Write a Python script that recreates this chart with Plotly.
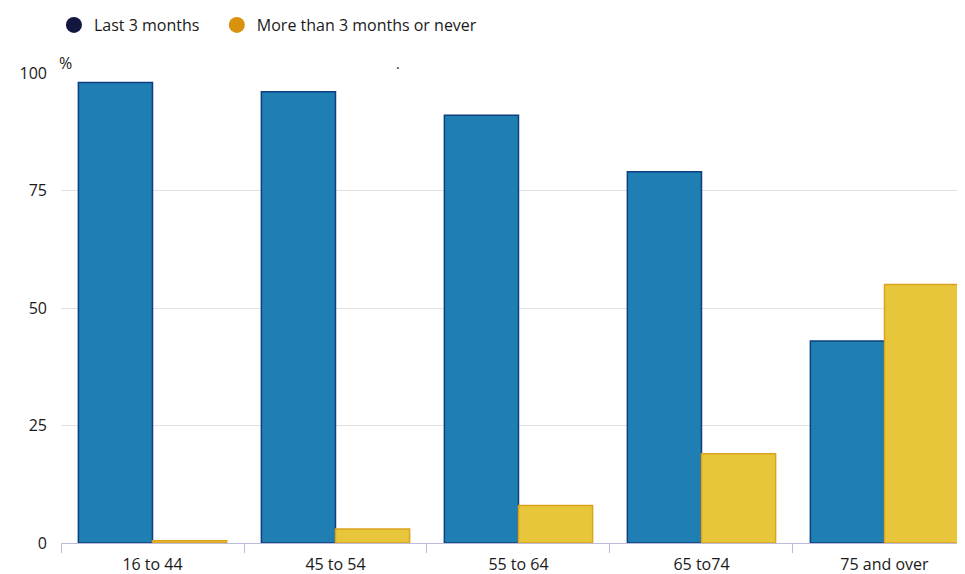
import plotly.graph_objects as go

categories = ["16 to 44", "45 to 54", "55 to 64", "65 to74", "75 and over"]
last_3_months = [98, 96, 91, 79, 43]
more_than_3_months = [0.5, 3, 8, 19, 55]
y_ticks = [0, 25, 50, 75, 100]

series_names = ["Last 3 months", "More than 3 months or never"]
bar_fill = ["#1f7fb2", "#e8c63c"]
bar_edge = ["#0d3f80", "#dca21e"]
legend_colors = ["#13163f", "#d8920e"]

fig = go.Figure()
for name, vals, fc, ec in zip(series_names, [last_3_months, more_than_3_months], bar_fill, bar_edge):
    fig.add_trace(go.Bar(
        x=categories, y=vals, name=name, showlegend=False,
        marker=dict(color=fc, line=dict(color=ec, width=1.5)),
        hoverinfo="x+y",
    ))
for i, (name, lc) in enumerate(zip(series_names, legend_colors)):
    label = name + ("\u00a0\u00a0\u00a0" if i == 0 else "")
    fig.add_trace(go.Scatter(
        x=[None], y=[None], mode="markers", name=label,
        marker=dict(symbol="circle", size=17, color=lc),
    ))

# page body has an 8px margin, so the figure is sized to fit inside the window
fig.update_layout(
    width=957, height=566,
    margin=dict(l=53, r=0, t=65, b=31),
    paper_bgcolor="white", plot_bgcolor="white",
    font=dict(family="Open Sans, sans-serif", size=16, color="#1a1a1a"),
    barmode="group", bargap=0.19, bargroupgap=0,
    showlegend=True,
    legend=dict(orientation="h", x=0.048, xanchor="left", y=1.0, yanchor="top",
                yref="container", xref="container",
                font=dict(size=16), itemwidth=30, traceorder="normal"),
    xaxis=dict(
        type="category", range=[-0.5, 4.44],
        showline=True, linecolor="#bdbbd8", linewidth=1,
        ticks="outside", tickson="boundaries", ticklen=9, tickcolor="#bdbbd8",
        showgrid=False, tickfont=dict(size=16), ticklabelstandoff=7,
    ),
    yaxis=dict(
        range=[0, 100], tickvals=y_ticks, ticktext=[str(v) for v in y_ticks],
        showgrid=True, gridcolor="#e2e2e2", gridwidth=1,
        zeroline=False, showline=False, ticks="",
        ticklabelstandoff=13, tickfont=dict(size=16),
    ),
    annotations=[
        dict(text="%", xref="paper", yref="paper", x=0.0, y=1.0, xanchor="left",
             yanchor="bottom", showarrow=False, font=dict(size=16), xshift=-4, yshift=-3),
        dict(text=".", xref="paper", yref="paper", x=0.373, y=1.0, xanchor="center",
             yanchor="bottom", showarrow=False, font=dict(size=14), yshift=-2),
    ],
)

fig.write_html("out.html")
